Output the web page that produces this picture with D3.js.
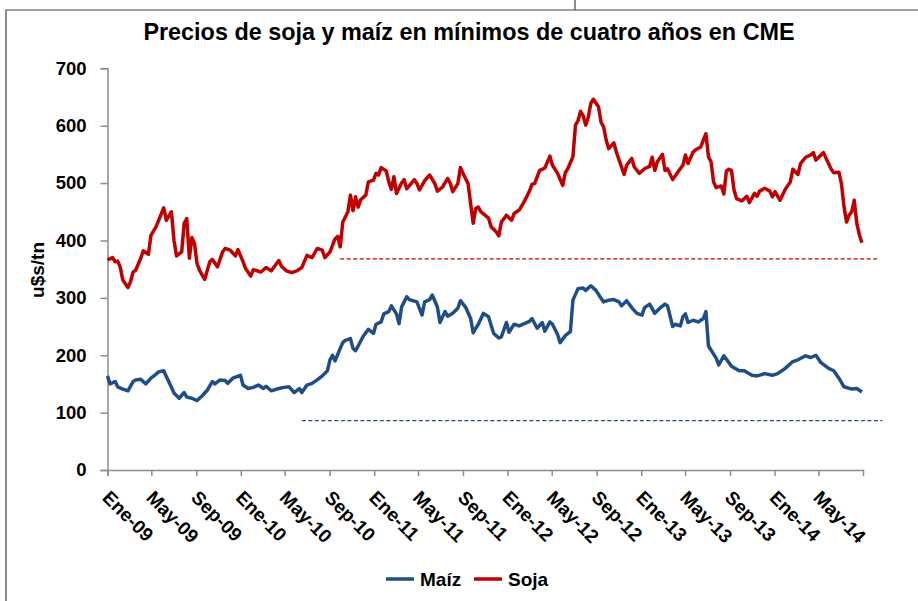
<!DOCTYPE html>
<html lang="es">
<head>
<meta charset="utf-8">
<title>Precios de soja y maíz</title>
<script src="https://d3js.org/d3.v7.min.js"></script>
<style>
  body { margin: 0; background: #fff; }
  text { font-family: "Liberation Sans", Arial, sans-serif; font-weight: bold; fill: #000; }
</style>
</head>
<body>
<script>
var w = 918, h = 601;

// semanas desde el 1 de enero de 2009 y precios en u$s/tn
var sojaSemanas = [0,2,3,4,5,6,8,9,10,11,13,14,16,17,19,20,22,23,25,26,27,29,30,31,32,33,34,35,36,38,40,41,43,45,46,48,50,51,53,54,56,57,60,62,64,67,68,70,72,74,76,78,80,82,84,85,87,89,90,91,92,93,94,95,96,97,98,99,101,102,104,105,106,107,109,110,111,112,113,115,116,117,120,121,122,124,126,128,129,131,133,134,135,137,138,139,141,142,143,144,145,146,149,150,152,153,154,156,158,159,161,163,165,166,167,169,171,173,174,176,178,179,180,182,183,184,185,186,187,188,189,190,192,193,194,195,196,198,199,201,202,203,205,206,208,210,212,213,214,215,217,218,219,221,223,225,226,227,229,230,232,233,234,235,236,237,238,240,241,242,243,244,245,246,248,250,251,253,254,255,257,259,260,261,263,265,267,268,270,271,273,275,276,277,279,280,281,283,284,286,287,288,289,290,291,292,293,294,295];
var sojaValores = [366,370,363,364,353,331,318,328,345,348,369,382,376,409,424,435,457,435,450,400,373,380,430,438,369,405,395,360,348,332,363,367,354,380,386,383,373,384,363,351,338,349,345,353,347,365,355,347,344,347,353,374,370,386,383,370,380,403,407,389,432,441,450,479,452,476,458,471,479,502,505,517,514,527,521,502,489,511,482,500,506,490,506,499,488,504,514,499,486,493,508,500,485,499,527,517,499,464,430,456,458,450,439,424,415,408,432,444,435,447,453,468,486,498,499,522,526,547,531,517,496,518,525,546,601,609,625,617,601,615,639,646,633,606,598,575,560,570,554,528,515,531,543,528,517,525,529,545,522,537,550,522,525,506,519,531,549,534,554,558,563,575,586,546,537,502,492,495,481,521,524,522,488,473,469,477,466,482,477,486,491,486,476,485,470,489,502,524,515,534,545,549,553,540,549,553,543,524,518,519,499,459,432,444,450,470,430,410,396];

var maizSemanas = [0,1,3,4,6,8,10,11,13,15,17,19,20,22,23,25,26,28,30,31,33,35,37,39,41,42,44,46,47,49,52,53,55,57,59,61,62,64,67,69,71,73,75,76,78,80,82,84,86,87,88,89,91,92,93,95,96,97,98,100,102,104,105,107,108,110,111,113,114,115,117,118,121,123,124,126,127,129,130,132,133,135,137,138,140,142,143,144,145,147,149,151,153,154,156,157,159,161,163,165,166,168,170,171,173,174,176,177,179,181,182,184,186,187,189,191,193,194,196,198,200,201,203,205,207,209,210,212,214,216,218,219,221,222,224,225,226,227,229,231,233,234,235,237,238,239,241,244,247,249,252,254,257,260,262,265,268,270,273,275,277,279,282,284,286,288,291,293,295];
var maizValores = [164,150,154,145,141,138,154,157,158,150,160,167,171,173,163,144,134,125,135,127,125,121,129,139,154,150,157,156,151,160,165,148,142,144,148,142,146,138,142,144,145,135,142,135,148,151,157,164,173,192,200,190,212,222,226,229,212,208,216,233,245,238,254,258,272,276,286,272,255,284,302,297,293,270,293,297,305,284,257,276,268,273,282,295,284,264,239,247,254,273,267,238,230,232,257,240,254,251,255,259,264,247,257,242,258,254,236,222,234,241,296,316,317,313,321,313,299,293,296,297,293,286,295,283,273,270,283,289,273,282,289,286,250,254,251,267,272,257,261,258,264,276,216,202,195,183,199,181,173,173,165,164,168,165,168,177,189,192,199,196,200,187,177,173,160,145,141,142,136];

// niveles de referencia (mínimos de cuatro años): semana inicial, semana final, valor
var refSoja = [91, 302, 368];
var refMaiz = [76, 303, 86];

var ticksY = [0, 100, 200, 300, 400, 500, 600, 700];
var etiquetasX = ["Ene-09","May-09","Sep-09","Ene-10","May-10","Sep-10","Ene-11","May-11","Sep-11",
                  "Ene-12","May-12","Sep-12","Ene-13","May-13","Sep-13","Ene-14","May-14"];
var series = ["Maíz", "Soja"];
var colores = ["#1F4E86", "#C00000"];

var inicio = new Date(2009, 0, 1);
function fecha(s) { return d3.timeDay.offset(inicio, s * 7); }

var x = d3.scaleTime()
    .domain([inicio, new Date(2014, 7, 31)])
    .range([107.5, 863]);
var y = d3.scaleLinear()
    .domain([0, 700])
    .range([470, 68.3]);

var svg = d3.select("body").append("svg")
    .attr("width", w)
    .attr("height", h);

// marco
svg.append("path")
    .attr("d", "M6,601V10H918M575,0V10")
    .attr("fill", "none")
    .attr("stroke", "#404040")
    .attr("stroke-width", 1.2);

svg.append("text")
    .attr("x", 469)
    .attr("y", 40)
    .attr("text-anchor", "middle")
    .style("font-size", "23.4px")
    .text("Precios de soja y maíz en mínimos de cuatro años en CME");

// ejes
var fechasX = d3.timeMonth.every(4).range(inicio, new Date(2014, 5, 1));
var yAxis = d3.axisLeft(y).tickValues(ticksY).tickSize(7).tickPadding(14);
var xAxis = d3.axisBottom(x).tickValues(fechasX).tickSize(6)
    .tickFormat(function(d, i) { return etiquetasX[i]; });

var gy = svg.append("g").attr("transform", "translate(107.5,0)").call(yAxis);
gy.selectAll("text").style("font-size", "18.5px");

var gx = svg.append("g").attr("transform", "translate(0,470)").call(xAxis);
gx.selectAll("text")
    .style("font-size", "19px")
    .attr("text-anchor", "start")
    .attr("transform", "translate(-2,24) rotate(45)")
    .attr("x", 0).attr("y", 0).attr("dy", "0.35em");

svg.selectAll(".domain, .tick line")
    .attr("stroke", "#8c8c8c")
    .attr("stroke-width", 1.5);

svg.append("text")
    .attr("transform", "translate(44,270) rotate(-90)")
    .attr("text-anchor", "middle")
    .style("font-size", "19px")
    .text("u$s/tn");

// líneas de referencia
[refMaiz, refSoja].forEach(function(r, i) {
  svg.append("line")
      .attr("x1", x(fecha(r[0]))).attr("x2", x(fecha(r[1])))
      .attr("y1", y(r[2])).attr("y2", y(r[2]))
      .attr("stroke", colores[i])
      .attr("stroke-width", 1.3)
      .attr("stroke-dasharray", "4,2.5");
});

// series
var linea = d3.line()
    .x(function(d) { return x(fecha(d[0])); })
    .y(function(d) { return y(d[1]); });

var datos = [d3.zip(maizSemanas, maizValores), d3.zip(sojaSemanas, sojaValores)];
datos.forEach(function(d, i) {
  svg.append("path")
      .datum(d)
      .attr("fill", "none")
      .attr("stroke", colores[i])
      .attr("stroke-width", 3.5)
      .attr("stroke-linejoin", "round")
      .attr("d", linea);
});

// leyenda
var leyX = [386, 474];
series.forEach(function(s, i) {
  svg.append("line")
      .attr("x1", leyX[i]).attr("x2", leyX[i] + 28)
      .attr("y1", 579).attr("y2", 579)
      .attr("stroke", colores[i])
      .attr("stroke-width", 3.5);
  svg.append("text")
      .attr("x", leyX[i] + 34)
      .attr("y", 579)
      .attr("dy", "0.35em")
      .style("font-size", "19px")
      .text(s);
});
</script>
</body>
</html>
